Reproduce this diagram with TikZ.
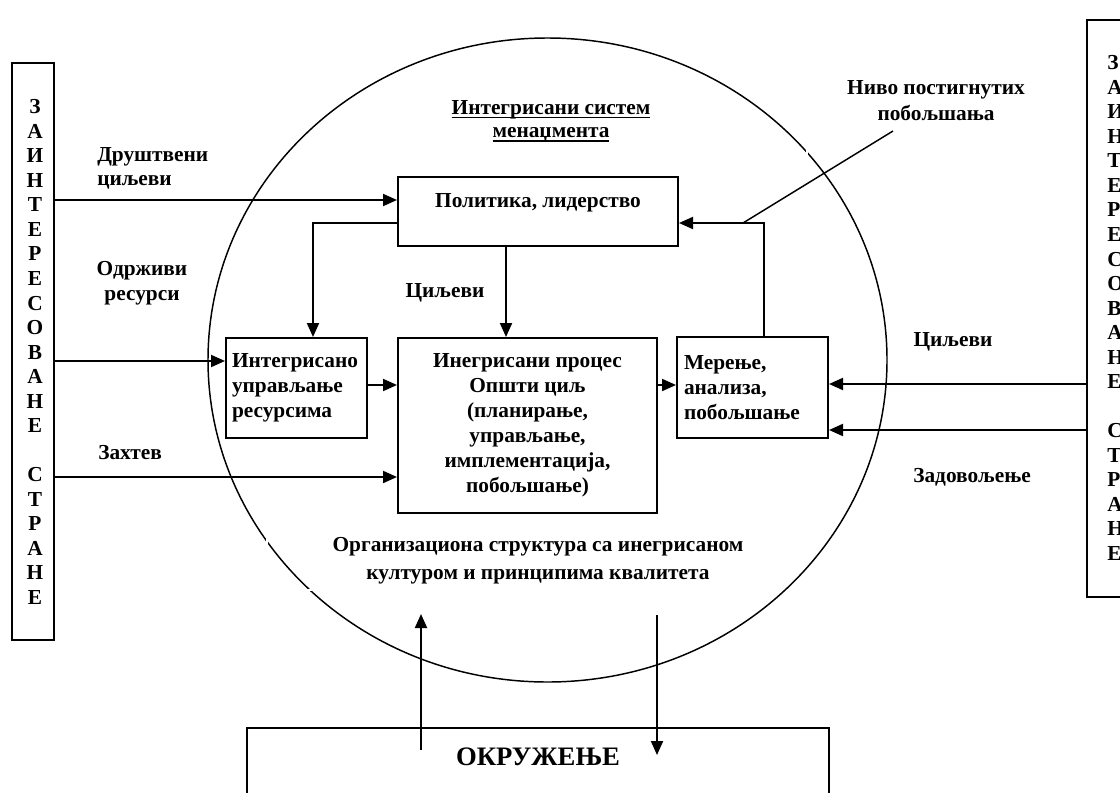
\documentclass[tikz,border=0pt]{standalone}
\usepackage{fontspec}
\setmainfont{Liberation Serif}
\usetikzlibrary{arrows.meta,shapes.geometric}
\newcommand{\pxu}{0.75pt}
\newcommand{\thickul}[1]{\setbox0\hbox{#1}\rlap{\rule[-3pt]{\wd0}{1.3pt}}\box0}
\begin{document}
\begin{tikzpicture}[x=0.75pt,y=-0.75pt,
  font=\fontsize{16}{18.75}\selectfont\bfseries,
  box/.style={draw,line width=1.5pt,inner sep=0pt},
  lbl/.style={align=center,inner sep=0pt},
  arr/.style={line width=1.5pt,-{Triangle[length=10.5pt,width=9pt]}},
  cut/.style={white,line width=2pt},
  letters/.style={inner sep=0pt,font=\fontsize{16}{18.4}\selectfont\bfseries}]
\useasboundingbox (0,0) rectangle (1120,792);
\clip (0,0) rectangle (1120,792);

% system boundary
\node[draw,ellipse,line width=1.1pt,minimum width=679*\pxu,minimum height=644*\pxu,inner sep=0pt] (sys) at (547.5,360) {};
% small breaks in the boundary line left by the caption frames
\draw[cut] (807,145) -- (807,159);
\draw[cut] (267,536) -- (267,546);
\draw[cut] (305,590) -- (315,590);

% stakeholder columns
\node[box,minimum width=42*\pxu,minimum height=577*\pxu] (lbox) at (33,351.5) {};
\node[letters,align=center] (ltxt) at (35,352) {З\\А\\И\\Н\\Т\\Е\\Р\\Е\\С\\О\\В\\А\\Н\\Е\\[18.4pt]С\\Т\\Р\\А\\Н\\Е};
\node[box,minimum width=80*\pxu,minimum height=577*\pxu] (rbox) at (1127,308.5) {};
\node[letters,align=left,anchor=west] (rtxt) at (1107,308) {З\\А\\И\\Н\\Т\\Е\\Р\\Е\\С\\О\\В\\А\\Н\\Е\\[18.4pt]С\\Т\\Р\\А\\Н\\Е};

% process boxes
\node[box,minimum width=280*\pxu,minimum height=69*\pxu] (pol) at (538,211.5) {};
\node[lbl] at (538,203) {Политика, лидерство};
\node[box,minimum width=141*\pxu,minimum height=100*\pxu,align=left,text width=129*\pxu,inner xsep=6*\pxu] (res) at (296.5,388) {Интегрисано\\управљање\\ресурсима};
\node[box,minimum width=259*\pxu,minimum height=175*\pxu,align=center] (proc) at (527.5,425.5) {Инегрисани процес\\Општи циљ\\(планирање,\\управљање,\\имплементација,\\побољшање)};
\node[box,minimum width=151*\pxu,minimum height=101*\pxu,align=left,text width=137*\pxu,inner xsep=7*\pxu] (mer) at (752.5,387.5) {Мерење,\\анализа,\\побољшање};
\node[box,minimum width=582*\pxu,minimum height=120*\pxu] (env) at (538,788) {};
\node[lbl,font=\fontsize{20}{24}\selectfont\bfseries] (envt) at (538,757) {ОКРУЖЕЊЕ};

% labels
\node[lbl,font=\fontsize{16}{17.5}\selectfont\bfseries] (title) at (551,121) {\thickul{Интегрисани систем}\\\thickul{менаџмента}};
\node[lbl,align=left,anchor=west,font=\fontsize{16}{18}\selectfont\bfseries] (l1) at (97,168) {Друштвени\\циљеви};
\node[lbl,font=\fontsize{16}{19}\selectfont\bfseries] (l2) at (142,283) {Одрживи\\ресурси};
\node[lbl,anchor=west] (l3) at (98,453) {Захтев};
\node[lbl] (l4) at (445,293) {Циљеви};
\node[lbl,font=\fontsize{16}{19.5}\selectfont\bfseries] (niv) at (936,101) {Ниво постигнутих\\побољшања};
\node[lbl] (r1) at (953,342) {Циљеви};
\node[lbl] (r2) at (972,477) {Задовољење};
\node[lbl,font=\fontsize{16}{21}\selectfont\bfseries] (org) at (538,561) {Организациона структура са инегрисаном\\културом и принципима квалитета};

% connectors
\draw[arr] (lbox.east |- 0,200) -- (pol.west |- 0,200);
\draw[arr] (lbox.east |- 0,361) -- (res.west |- 0,361);
\draw[arr] (lbox.east |- 0,477) -- (proc.west |- 0,477);
\draw[arr] (pol.west |- 0,223) -| (res.north -| 313,0);
\draw[arr] (pol.south -| 506,0) -- (proc.north -| 506,0);
\draw[arr] (res.east |- 0,385) -- (proc.west |- 0,385);
\draw[arr] (proc.east |- 0,385) -- (mer.west |- 0,385);
\draw[arr] (mer.north -| 764,0) |- (pol.east |- 0,223);
\coordinate (fb) at (743,223);
\coordinate (nivend) at (893,131);
\draw[line width=1.1pt] (nivend) -- (fb);
\draw[arr] (rbox.west |- 0,384) -- (mer.east |- 0,384);
\draw[arr] (rbox.west |- 0,430) -- (mer.east |- 0,430);
\coordinate (up0) at (421,750);
\coordinate (up1) at (421,614);
\coordinate (dn0) at (657,615);
\coordinate (dn1) at (657,755);
\draw[arr] (up0) -- (up1);
\draw[arr] (dn0) -- (dn1);
\end{tikzpicture}
\end{document}
